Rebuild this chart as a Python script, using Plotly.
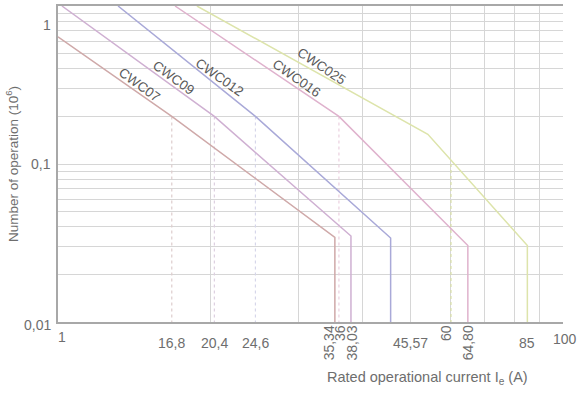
import math
import plotly.graph_objects as go

# ---------------- data ----------------
series_names = ["CWC07", "CWC09", "CWC012", "CWC016", "CWC025"]
cwc07_x = [10, 16.8, 35.34, 35.34]
cwc07_y = [0.638, 0.2, 0.0343, 0.01]
cwc09_x = [10.18, 20.4, 38.03, 38.03]
cwc09_y = [1.0, 0.2, 0.035, 0.01]
cwc012_x = [13.15, 24.6, 45.57, 45.57]
cwc012_y = [1.0, 0.2, 0.034, 0.01]
cwc016_x = [17.05, 36, 64.8, 64.8]
cwc016_y = [1.0, 0.2, 0.0305, 0.01]
cwc025_x = [18.84, 54, 85, 85]
cwc025_y = [1.0, 0.154, 0.0305, 0.01]

# reference (dotted) verticals
ref_x = [16.8, 20.4, 24.6, 36, 60]
ref_top = [0.2, 0.2, 0.2, 0.2, 0.1]

# tick labels
xtick_vals = [10, 16.8, 20.4, 24.6, 35.34, 36, 38.03, 45.57, 60, 64.80, 85, 100]
xtick_text = ["1", "16,8", "20,4", "24,6", "35,34", "36", "38,03", "45,57",
              "60", "64,80", "85", "100"]
xtick_rot = [False, False, False, False, True, True, True, False, True, True, False, False]
ytick_vals = [0.01, 0.1, 1]
ytick_text = ["0,01", "0,1", "1"]

# ---------------- styles ----------------
series_x = [cwc07_x, cwc09_x, cwc012_x, cwc016_x, cwc025_x]
series_y = [cwc07_y, cwc09_y, cwc012_y, cwc016_y, cwc025_y]
colors = ["#cfa9a9", "#cfb0d2", "#a9a9d8", "#dfb2cd", "#dde4ab"]
ref_colors = ["#ddcccc", "#ddd0e0", "#d6d6ea", "#ead0df", "#d9e0a8"]
label_pos = {"CWC07": (14.47, 0.319, 36), "CWC09": (16.9, 0.352, 36),
             "CWC012": (20.9, 0.352, 35), "CWC016": (29.7, 0.347, 35),
             "CWC025": (33.3, 0.413, 34)}
xlabel_shift = {"1": (-2, 6, "left"), "35,34": (-6, 0, "center"), "36": (1, 0, "center"),
                "38,03": (1, 0, "center"), "45,57": (0, 0, "left"), "60": (-5, 0, "center"),
                "100": (2, 4, "center")}
txt_color = "#6e6e6e"
FONT = "Liberation Sans, Arial, sans-serif"

fig = go.Figure()

for xv, top, c in zip(ref_x, ref_top, ref_colors):
    fig.add_trace(go.Scatter(x=[xv, xv], y=[top, 0.01], mode="lines",
                             line=dict(color=c, width=1.2, dash="dot"),
                             hoverinfo="skip", showlegend=False))

for name, xs, ys, c in zip(series_names, series_x, series_y, colors):
    fig.add_trace(go.Scatter(x=xs, y=ys, mode="lines", name=name,
                             line=dict(color=c, width=1.5), showlegend=False))

grid_y = [k * 10.0 ** e for e in (-2, -1) for k in range(1, 10)] + [1.0]
grid_x = [k * 10.0 for k in range(1, 11)]

annotations = []
for name in series_names:
    lx, ly, ang = label_pos[name]
    annotations.append(dict(x=math.log10(lx), y=math.log10(ly), xref="x", yref="y",
                            text=name, showarrow=False, textangle=ang,
                            font=dict(family=FONT, size=13.5, color="#5a5a5a")))

for v, t, rot in zip(xtick_vals, xtick_text, xtick_rot):
    dx, dy, anchor = xlabel_shift.get(t, (0, 0, "center"))
    if rot:
        annotations.append(dict(x=math.log10(v), y=0, xref="x", yref="paper", text=t,
                                showarrow=False, textangle=-90, xanchor="center",
                                yanchor="top", xshift=dx, yshift=-1 + dy,
                                font=dict(family=FONT, size=14, color=txt_color)))
    else:
        annotations.append(dict(x=math.log10(v), y=0, xref="x", yref="paper", text=t,
                                showarrow=False, xanchor=anchor, yanchor="top",
                                xshift=dx, yshift=-11 + dy,
                                font=dict(family=FONT, size=14, color=txt_color)))

yshifts = {"0,01": -3, "0,1": 0, "1": -19}
for v, t in zip(ytick_vals, ytick_text):
    annotations.append(dict(x=0, y=math.log10(v), xref="paper", yref="y", text=t,
                            showarrow=False, xanchor="right", yanchor="middle",
                            xshift=-5, yshift=yshifts[t],
                            font=dict(family=FONT, size=14, color=txt_color)))

annotations.append(dict(x=0.731, y=0, xref="paper", yref="paper",
                        text="Rated operational current I<sub>e</sub> (A)",
                        showarrow=False, xanchor="center", yanchor="middle", yshift=-56,
                        font=dict(family=FONT, size=14.5, color=txt_color)))
annotations.append(dict(x=0, y=0.5, xref="paper", yref="paper",
                        text="Number of operation (10<sup>6</sup>)",
                        showarrow=False, textangle=-90, xanchor="center", yanchor="middle",
                        xshift=-46,
                        font=dict(family=FONT, size=13.5, color=txt_color)))

fig.update_layout(
    width=579, height=394,
    margin=dict(l=58, r=16, t=4, b=72),
    paper_bgcolor="white", plot_bgcolor="white",
    annotations=annotations,
    xaxis=dict(type="log", range=[1, 2], tickvals=grid_x, showticklabels=False,
               showgrid=True, gridcolor="#d6d6d6", gridwidth=1, zeroline=False,
               showline=True, linecolor="#a8a8a8", linewidth=2, mirror=True, ticks=""),
    yaxis=dict(type="log", range=[-2, 0], tickvals=grid_y, showticklabels=False,
               showgrid=True, gridcolor="#d6d6d6", gridwidth=1, zeroline=False,
               showline=True, linecolor="#a8a8a8", linewidth=2, ticks=""),
)

fig.write_html("out.html", config={"displayModeBar": False},
               post_script="document.body.style.margin='0';")
